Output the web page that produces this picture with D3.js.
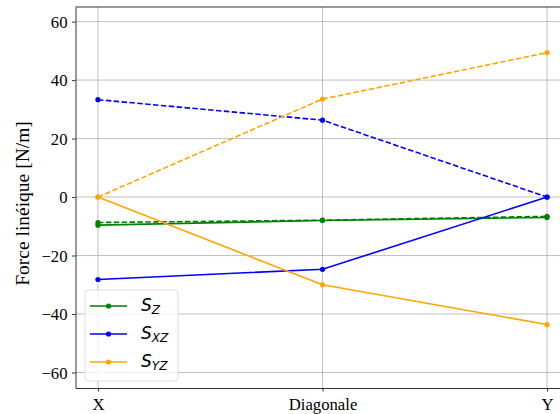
<!DOCTYPE html>
<html><head><meta charset="utf-8">
<script src="https://cdn.jsdelivr.net/npm/d3@7"></script>
<style>body{margin:0;background:#fff}svg{display:block}</style>
</head><body><svg id="c" width="560" height="414"></svg>
<script>
const categories = ["X", "Diagonale", "Y"];
const yTicks = [-60, -40, -20, 0, 20, 40, 60];
const szSolid = [-9.6, -8.0, -7.0];
const szDashed = [-8.7, -7.9, -6.6];
const sxzSolid = [-28.2, -24.7, 0];
const sxzDashed = [33.3, 26.3, 0];
const syzSolid = [0, -30.0, -43.6];
const syzDashed = [0, 33.5, 49.4];
const legendLabels = ["Z", "XZ", "YZ"];
const colors = ["green", "blue", "orange"];

const svg = d3.select("#c");
const L = 75.5, R = 569.5, T = 7, B = 388;
const x = d3.scaleLinear().domain([-0.1, 2.1]).range([L, R]);
const y = d3.scaleLinear().domain([-65.3, 65]).range([B, T]);

const g = svg.append("g");
// grid
g.selectAll(".gx").data(categories).enter().append("line")
  .attr("x1", (d,i)=>x(i)).attr("x2", (d,i)=>x(i)).attr("y1", T).attr("y2", B)
  .attr("stroke", "#b0b0b0").attr("stroke-width", 0.8);
g.selectAll(".gy").data(yTicks).enter().append("line")
  .attr("x1", L).attr("x2", R).attr("y1", d=>y(d)).attr("y2", d=>y(d))
  .attr("stroke", "#b0b0b0").attr("stroke-width", 0.8);

const line = d3.line().x((d,i)=>x(i)).y(d=>y(d));
const series = [
  [szSolid, szDashed], [sxzSolid, sxzDashed], [syzSolid, syzDashed]
];
series.forEach((s, k) => {
  [s[0], s[1]].forEach((vals, j) => {
    g.append("path").attr("d", line(vals)).attr("fill", "none")
      .attr("stroke", colors[k]).attr("stroke-width", 1.6)
      .attr("stroke-dasharray", j ? "5.5,2.4" : null);
    g.selectAll(null).data(vals).enter().append("circle")
      .attr("cx", (d,i)=>x(i)).attr("cy", d=>y(d)).attr("r", 2.6)
      .attr("fill", colors[k]);
  });
});

// axes
const xa = svg.append("g").attr("transform", `translate(0,${B})`)
  .call(d3.axisBottom(x).tickValues([0,1,2]).tickFormat(i=>categories[i]).tickSize(3.5).tickSizeOuter(0));
const ya = svg.append("g").attr("transform", `translate(${L},0)`)
  .call(d3.axisLeft(y).tickValues(yTicks).tickFormat(d=>d<0?"\u2212"+(-d):d).tickSize(3.5).tickSizeOuter(0));
[xa, ya].forEach(a => {
  a.selectAll("text").attr("font-family", "Liberation Serif, Times New Roman, serif")
    .attr("font-size", 16.7).attr("fill", "#000");
  a.selectAll("line").attr("stroke", "#000").attr("stroke-width", 0.8);
  a.select(".domain").attr("stroke", "#000").attr("stroke-width", 0.8);
});
xa.selectAll("text").attr("y", 21.5).attr("dy", 0);
ya.selectAll("text").attr("x", -8).attr("dy", "0.33em");
// top spine
svg.append("line").attr("x1", L).attr("x2", R).attr("y1", T).attr("y2", T)
  .attr("stroke", "#000").attr("stroke-width", 0.8);

svg.append("text").attr("transform", `translate(29,${(T+B)/2 + 6}) rotate(-90)`)
  .attr("text-anchor", "middle").attr("font-family", "Liberation Serif, Times New Roman, serif")
  .attr("font-size", 19.5).text("Force linéique [N/m]");

// legend
const lg = svg.append("g").attr("transform", "translate(85,290)");
lg.append("rect").attr("x", 0).attr("y", 0).attr("width", 93).attr("height", 91)
  .attr("rx", 3).attr("fill", "#fff").attr("fill-opacity", 0.8)
  .attr("stroke", "#d6d6d6").attr("stroke-width", 0.8);
legendLabels.forEach((lab, k) => {
  const yy = 16 + k * 28;
  lg.append("line").attr("x1", 5).attr("x2", 42).attr("y1", yy).attr("y2", yy)
    .attr("stroke", colors[k]).attr("stroke-width", 1.6);
  lg.append("circle").attr("cx", 23.5).attr("cy", yy).attr("r", 2.6).attr("fill", colors[k]);
  const t = lg.append("text").attr("x", 56).attr("y", yy + 5)
    .attr("font-family", "DejaVu Sans, sans-serif").attr("font-style", "italic").attr("fill", "#000");
  t.append("tspan").attr("font-size", 17).text("S");
  t.append("tspan").attr("font-size", 12).attr("dy", 3).text(lab);
});
</script></body></html>
